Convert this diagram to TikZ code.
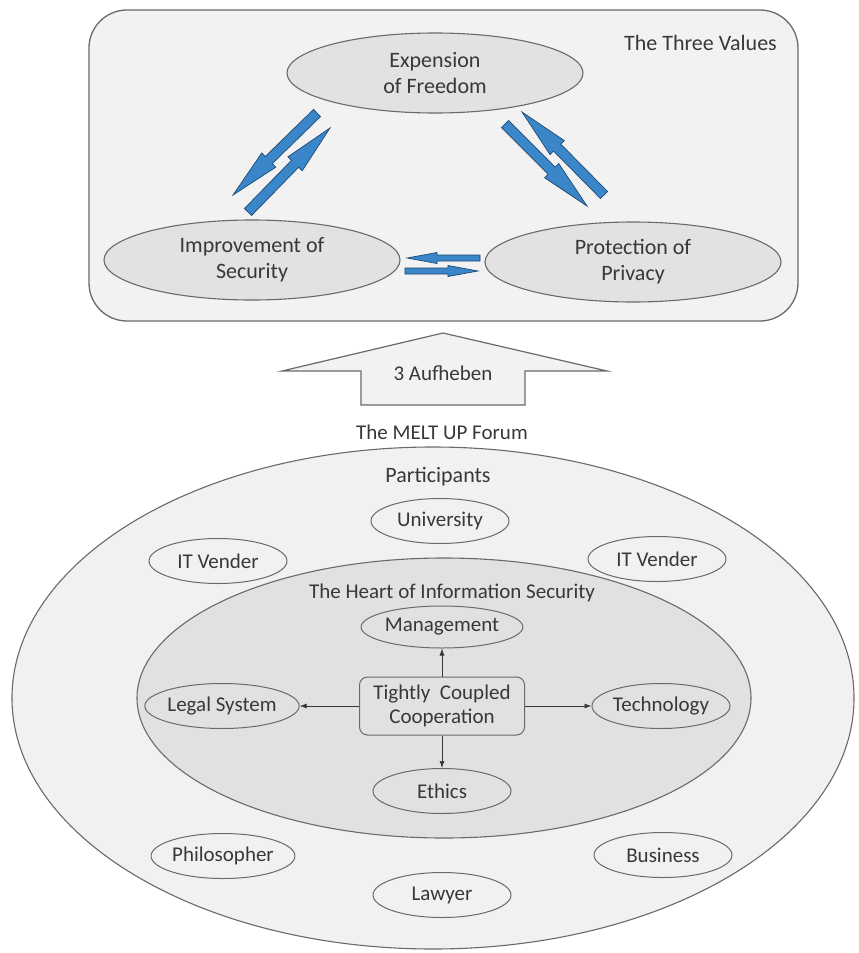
\documentclass[tikz,border=0pt]{standalone}
\usepackage{fontspec}
\setmainfont{Carlito}
\usetikzlibrary{shapes.geometric,calc,arrows.meta}

\definecolor{panel}{HTML}{F3F2F2}
\definecolor{valuefill}{HTML}{E3E1E2}
\definecolor{outerfill}{HTML}{F2F0F1}
\definecolor{innerfill}{HTML}{E2E0E1}
\definecolor{edge}{HTML}{6A6A6A}
\definecolor{ink}{HTML}{383838}
\definecolor{flowblue}{HTML}{3A86C8}
\definecolor{flowedge}{HTML}{1E4A74}

% broad two-tone arrow: tail, tip, half shaft width, half head width, head length
\newcommand\flowarrow[5]{%
  \coordinate (fa-base) at ($(#2)!#5!(#1)$);
  \filldraw[flowshape]
    ($(#1)!#3!90:(#2)$) -- ($(fa-base)!#3!90:(#2)$) -- ($(fa-base)!#4!90:(#2)$)
    -- (#2)
    -- ($(fa-base)!#4!-90:(#2)$) -- ($(fa-base)!#3!-90:(#2)$) -- ($(#1)!#3!-90:(#2)$)
    -- cycle;
}

\begin{document}
\begin{tikzpicture}[x=1pt,y=-1pt,
  flowshape/.style={fill=flowblue, draw=flowedge, line width=0.7pt, line join=miter},
  panelbox/.style={draw=edge, line width=1.3pt, fill=panel, rounded corners=38pt},
  value/.style={ellipse, draw=edge, line width=1.1pt, fill=valuefill,
    minimum width=296pt, minimum height=80pt, inner sep=0pt, align=center,
    text=ink, font=\fontsize{22}{26}\selectfont},
  label/.style={text=ink, inner sep=0pt, font=\fontsize{22}{26}\selectfont},
  smalllabel/.style={text=ink, inner sep=0pt, font=\fontsize{21}{24}\selectfont},
  role/.style={ellipse, draw=edge, line width=1pt, minimum width=138pt,
    minimum height=45pt, inner sep=0pt, text=ink, font=\fontsize{21}{24}\selectfont},
  ring/.style={ellipse, draw=edge, line width=1.1pt, inner sep=0pt},
  link/.style={draw=ink, line width=0.7pt, -{Latex[length=7pt,width=5pt]}},
  liftstyle/.style={draw=edge, line width=1.2pt, fill=panel, line join=miter}
]
\useasboundingbox (0,0) rectangle (859,953);
\fill[white] (0,0) rectangle (859,953);

% ---- the three values panel ----
\draw[panelbox] (89,10) rectangle (798,321);
\node[label, anchor=east] (title) at (777,43) {The Three Values};

\node[value] (freedom)  at (435,73)  {Expension\\of Freedom};
\node[value] (security) at (252,260) {Improvement of\\Security};
\node[value] (privacy)  at (633,262) {Protection of\\Privacy};

% freedom <-> security
\coordinate (fs-tail) at (317,113); \coordinate (fs-tip) at (233,195);
\coordinate (sf-tail) at (248,212); \coordinate (sf-tip) at (330,128);
% freedom <-> privacy
\coordinate (fp-tail) at (505,124); \coordinate (fp-tip) at (587,206);
\coordinate (pf-tail) at (604,195); \coordinate (pf-tip) at (522,112);
% privacy <-> security
\coordinate (ps-tail) at (480,258); \coordinate (ps-tip) at (407,258);
\coordinate (sp-tail) at (405,271); \coordinate (sp-tip) at (478,271);

\flowarrow{fs-tail}{fs-tip}{5pt}{10pt}{50pt}
\flowarrow{sf-tail}{sf-tip}{5pt}{10pt}{50pt}
\flowarrow{fp-tail}{fp-tip}{5pt}{10pt}{50pt}
\flowarrow{pf-tail}{pf-tip}{5pt}{10pt}{50pt}
\flowarrow{ps-tail}{ps-tip}{3pt}{5.5pt}{30pt}
\flowarrow{sp-tail}{sp-tip}{3pt}{5.5pt}{30pt}

% ---- lifting arrow ----
\draw[liftstyle] (443,333) -- (607,371) -- (525,371) -- (525,405) -- (361,405)
  -- (361,371) -- (282,371) -- cycle;
\node[smalllabel] (lift) at (443,373) {3 Aufheben};
\node[smalllabel] (forum) at (442,432) {The MELT UP Forum};

% ---- forum rings ----
\node[ring, fill=outerfill, minimum width=842pt, minimum height=502pt] (outer) at (433,698) {};
\node[ring, fill=innerfill, minimum width=614pt, minimum height=280pt] (heart) at (444,698) {};

\node[label] (participants) at (438,477) {Participants};
\node[smalllabel] (hearttitle) at (452,593) {The Heart of Information Security};

% participants
\node[role, fill=outerfill] (university) at (440,521) {University};
\node[role, fill=outerfill] (vendorL)    at (218,561) {IT Vender};
\node[role, fill=outerfill] (vendorR)    at (657,559) {IT Vender};
\node[role, fill=outerfill] (philosopher) at (223,856) {Philosopher};
\node[role, fill=outerfill] (business)   at (663,855) {Business};
\node[role, fill=outerfill] (lawyer)     at (442,895) {Lawyer};

% heart of information security
\node[role, fill=innerfill, minimum height=42pt] (management) at (442,627) {Management};
\node[role, fill=innerfill] (legal)      at (222,706) {Legal System};
\node[role, fill=innerfill] (technology) at (661,706) {Technology};
\node[role, fill=innerfill] (ethics)     at (442,791) {Ethics};

\node[draw=edge, line width=1pt, fill=innerfill, rounded corners=8pt,
  minimum width=165pt, minimum height=58pt, inner sep=0pt, align=center,
  text=ink, font=\fontsize{21}{24}\selectfont] (coop) at (442,706)
  {Tightly\ \ Coupled\\Cooperation};

\draw[link] (coop.north) -- (management.south);
\draw[link] (coop.south) -- (ethics.north);
\draw[link] (coop.west)  -- (legal.east);
\draw[link] (coop.east)  -- (technology.west);
\end{tikzpicture}
\end{document}
